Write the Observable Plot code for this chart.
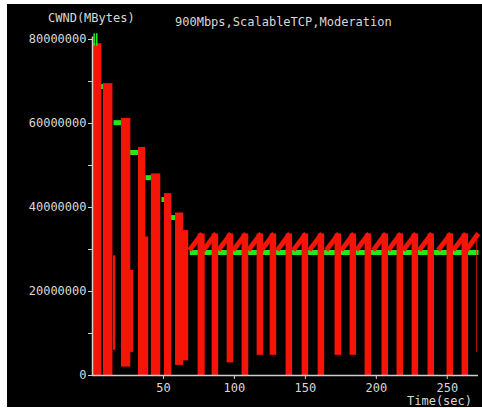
<!DOCTYPE html>
<html>
<head>
<meta charset="utf-8">
<script src="https://cdn.jsdelivr.net/npm/d3@7"></script>
<script src="https://cdn.jsdelivr.net/npm/@observablehq/plot@0.6"></script>
<style>
  html, body { margin: 0; padding: 0; background: #fff; }
  #wrap { position: absolute; left: 7px; top: 4px; width: 475px; height: 403px; background: #000; overflow: hidden; }
</style>
</head>
<body>
<div id="wrap"></div>
<script>
// ---- data (time in seconds, CWND in bytes) ----
// early phase: tall decreasing strips
const earlyStart = [0.4, 7.7, 14.8, 20.4, 26.8, 32.4, 37.3, 41.5, 50.7, 58.5, 63.0];
const earlyEnd   = [6.6, 14.4, 16.4, 27.0, 29.0, 37.5, 39.6, 48.1, 55.9, 64.3, 67.8];
const earlyLow   = [0, 0, 6.0e6, 2.0e6, 5.5e6, 0, 0, 0, 0, 2.4e6, 3.5e6];
const earlyHigh  = [79.0e6, 69.5e6, 28.5e6, 61.2e6, 25.0e6, 54.3e6, 33.0e6, 48.0e6, 43.3e6, 38.7e6, 34.5e6];

// steady phase: recovery strips after each loss
const lateStart = [74.4, 84.3, 94.9, 105.4, 116.0, 125.2, 136.4, 147.7, 159.0, 170.9, 181.5, 192.1, 204.0, 214.6, 225.2, 236.4, 249.8, 260.4, 270.8];
const lateEnd   = [79.4, 88.9, 99.5, 110.1, 120.6, 129.8, 141.0, 152.3, 163.6, 175.5, 186.1, 196.7, 208.6, 219.2, 229.8, 241.0, 254.4, 265.0, 271.4];
const lateLow   = [0, 0, 3.0e6, 0, 4.8e6, 4.8e6, 0, 0, 0, 4.8e6, 4.8e6, 0, 0, 0, 0, 0, 0, 0, 5.5e6];
const lateHigh  = [33.7e6, 33.7e6, 33.7e6, 33.7e6, 33.7e6, 33.7e6, 33.7e6, 33.7e6, 33.7e6, 33.7e6, 33.7e6, 33.7e6, 33.7e6, 33.7e6, 33.7e6, 33.7e6, 33.7e6, 33.7e6, 33.7e6];

// sawtooth ramps (linear growth before each loss)
const rampStart = [68.3, 78.1, 88.7, 99.2, 109.8, 119.0, 130.2, 141.5, 152.8, 164.7, 175.3, 185.9, 197.8, 208.4, 219.0, 230.2, 243.6, 254.2, 263.4];
const rampEnd   = [77.3, 87.1, 97.7, 108.2, 118.8, 128.0, 139.2, 150.5, 161.8, 173.7, 184.3, 194.9, 206.8, 217.4, 228.0, 239.2, 252.6, 263.2, 271.8];
const rampLow   = 29.8e6;
const rampHigh  = 33.8e6;

// green (moderated ssthresh) segments
const greenStart = [5.6, 14.8, 25.4, 37.3, 48.6, 55.0, 68.5];
const greenEnd   = [9.2, 21.1, 32.4, 43.0, 52.1, 59.2, 272.0];
const greenLevel = [68.8e6, 60.2e6, 53.1e6, 47.1e6, 41.9e6, 37.6e6, 29.3e6];
const greenSpikeT   = [1.2, 3.0];
const greenSpikeLow = [78.5e6, 78.5e6];
const greenSpikeHigh= [81.5e6, 81.5e6];

// ticks
const xTicks = [50, 100, 150, 200, 250];
const yTicks = [0, 20000000, 40000000, 60000000, 80000000];
const yMinorTicks = [10000000, 30000000, 50000000, 70000000];

const yLabel = "CWND(MBytes)";
const title = "900Mbps,ScalableTCP,Moderation";
const xLabel = "Time(sec)";

// ---- build tables ----
const strips = earlyStart.map((t, i) => ({t0: t, t1: earlyEnd[i], lo: earlyLow[i], hi: earlyHigh[i]}))
  .concat(lateStart.map((t, i) => ({t0: t, t1: lateEnd[i], lo: lateLow[i], hi: lateHigh[i]})));
const ramps = rampStart.map((t, i) => ({t0: t, t1: rampEnd[i], y0: rampLow, y1: rampHigh}));
const greens = greenStart.map((t, i) => ({t0: t, t1: greenEnd[i], y: greenLevel[i]}));
const spikes = greenSpikeT.map((t, i) => ({t, lo: greenSpikeLow[i], hi: greenSpikeHigh[i]}));

const RED = "#f41408";
const GREEN = "#22e81e";
const AXIS = "#cfcfcf";
const TEXT = "#d8d8d8";

const chart = Plot.plot({
  width: 475,
  height: 403,
  marginLeft: 85,
  marginRight: 4,
  marginTop: 32.5,
  marginBottom: 32,
  style: {background: "#000", color: TEXT, fontFamily: "DejaVu Sans Mono", fontSize: "12px"},
  x: {domain: [0, 272]},
  y: {domain: [0, 80.6e6]},
  marks: [
    Plot.link(greens, {x1: "t0", x2: "t1", y1: "y", y2: "y", stroke: GREEN, strokeWidth: 5}),
    Plot.rect(strips, {x1: "t0", x2: "t1", y1: "lo", y2: "hi", fill: RED}),
    Plot.link(ramps, {x1: "t0", x2: "t1", y1: "y0", y2: "y1", stroke: RED, strokeWidth: 5}),
    Plot.link(spikes, {x1: "t", x2: "t", y1: "lo", y2: "hi", stroke: GREEN, strokeWidth: 1.5}),
    Plot.ruleX([0], {stroke: AXIS, strokeWidth: 1.5}),
    Plot.ruleY([0], {stroke: AXIS, strokeWidth: 1.5}),
    Plot.axisY(yTicks, {tickSize: 4, tickPadding: 2, tickFormat: d3.format("d"), stroke: AXIS, label: null}),
    Plot.axisY(yMinorTicks, {tickSize: 4, tickFormat: () => "", stroke: AXIS, label: null}),
    Plot.axisX(xTicks, {tickSize: 4, tickPadding: 4, stroke: AXIS, label: null})
  ]
});

const svg = d3.select(chart);
function addText(x, y, s) {
  svg.append("text").attr("x", x).attr("y", y).attr("fill", TEXT)
    .attr("text-anchor", "start")
    .style("font-family", "DejaVu Sans Mono").style("font-size", "12px").text(s);
}
addText(41, 18, yLabel);
addText(168, 22, title);
addText(400, 401, xLabel);

document.getElementById("wrap").appendChild(chart);
</script>
</body>
</html>
